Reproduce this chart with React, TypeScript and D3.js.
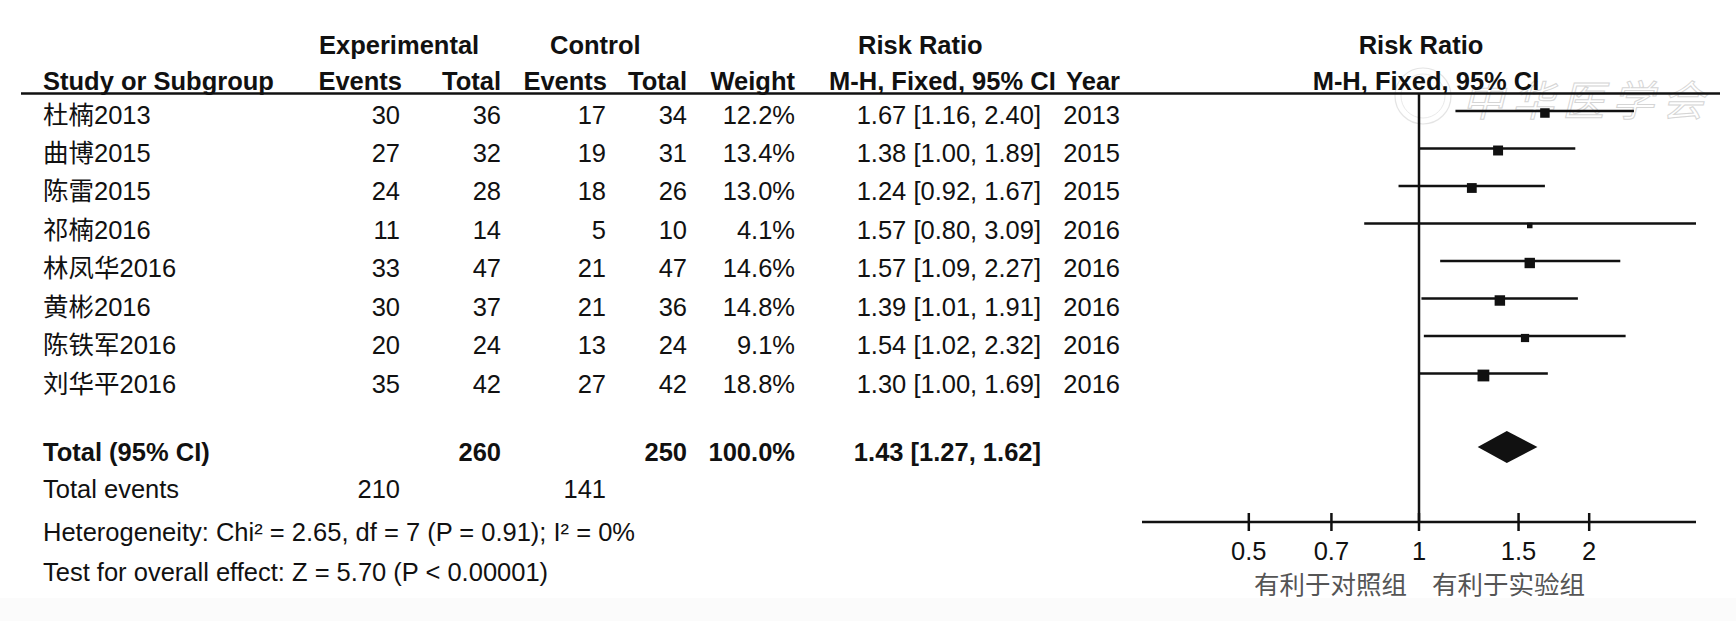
import React from "react";
import * as d3 from "d3";

const studies = ["杜楠2013", "曲博2015", "陈雷2015", "祁楠2016", "林凤华2016", "黄彬2016", "陈铁军2016", "刘华平2016"];
const expEvents = [30, 27, 24, 11, 33, 30, 20, 35];
const expTotal = [36, 32, 28, 14, 47, 37, 24, 42];
const ctrlEvents = [17, 19, 18, 5, 21, 21, 13, 27];
const ctrlTotal = [34, 31, 26, 10, 47, 36, 24, 42];
const weights = [12.2, 13.4, 13.0, 4.1, 14.6, 14.8, 9.1, 18.8];
const rr = [1.67, 1.38, 1.24, 1.57, 1.57, 1.39, 1.54, 1.30];
const rrLo = [1.16, 1.0, 0.92, 0.8, 1.09, 1.01, 1.02, 1.0];
const rrHi = [2.4, 1.89, 1.67, 3.09, 2.27, 1.91, 2.32, 1.69];
const years = [2013, 2015, 2015, 2016, 2016, 2016, 2016, 2016];

const totalExp = 260;
const totalCtrl = 250;
const totalWeight = "100.0%";
const pooled = [1.43, 1.27, 1.62];
const totalEventsExp = 210;
const totalEventsCtrl = 141;
const heterogeneityText = "Heterogeneity: Chi² = 2.65, df = 7 (P = 0.91); I² = 0%";
const overallText = "Test for overall effect: Z = 5.70 (P < 0.00001)";
const axisTicks = [0.5, 0.7, 1, 1.5, 2];
const axisDomain = [1 / 3.09, 3.09];
const favoursLeft = "有利于对照组";
const favoursRight = "有利于实验组";

const W = 1736;
const H = 621;
const FONT = "'Liberation Sans', Arial, 'Noto Sans CJK SC', sans-serif";
const FS = 25.5;

export default function App() {
  const x = d3.scaleLog().domain(axisDomain).range([1142, 1696]);
  const rowY = d3.scaleLinear().domain([0, studies.length - 1]).range([111, 373.5]);
  const textY = d3.scaleLinear().domain([0, studies.length - 1]).range([123.5, 392.5]);
  const size = d3.scaleSqrt().domain([0, 100]).range([0, 27.2]);
  const fmt2 = d3.format(".2f");
  const fmtW = (v: number) => d3.format(".1f")(v) + "%";
  const ciText = (m: number, l: number, h: number) => `${fmt2(m)} [${fmt2(l)}, ${fmt2(h)}]`;
  const x1 = x(1);
  const axisY = 522;
  const totalY = 447;

  const diamond = d3.line<[number, number]>()([
    [x(pooled[1]), totalY],
    [x(pooled[0]), totalY - 16],
    [x(pooled[2]), totalY],
    [x(pooled[0]), totalY + 16],
  ]) as string;

  const T = (props: any) => (
    <text fontFamily={FONT} fontSize={FS} fill="#111" {...props} />
  );

  return (
    <svg width={W} height={H} style={{ position: "absolute", left: 0, top: 0, background: "#fff" }}>
      <rect x={0} y={0} width={W} height={H} fill="#fff" />
      <rect x={0} y={598} width={W} height={H - 598} fill="#fbfbfb" />

      {/* watermark */}
      <g opacity={0.22} stroke="#888" fill="none">
        <circle cx={1423} cy={96} r={28} strokeWidth={1.2} />
        <circle cx={1423} cy={96} r={22} strokeWidth={0.8} />
      </g>
      <text x={1462} y={116} fontFamily="'Noto Sans CJK SC', sans-serif" fontSize={42} fill="none" stroke="#c4c4c4" strokeWidth={1} fontStyle="italic" letterSpacing={8} opacity={0.7}>中华医学会</text>

      {/* headers */}
      <g fontWeight="bold">
        <T x={319} y={54}>Experimental</T>
        <T x={550} y={54}>Control</T>
        <T x={858} y={54}>Risk Ratio</T>
        <T x={1421} y={54} textAnchor="middle">Risk Ratio</T>
        <T x={43} y={90}>Study or Subgroup</T>
        <T x={402} y={90} textAnchor="end">Events</T>
        <T x={501} y={90} textAnchor="end">Total</T>
        <T x={607} y={90} textAnchor="end">Events</T>
        <T x={687} y={90} textAnchor="end">Total</T>
        <T x={795} y={90} textAnchor="end">Weight</T>
        <T x={829} y={90}>M-H, Fixed, 95% CI</T>
        <T x={1120} y={90} textAnchor="end">Year</T>
        <T x={1426} y={90} textAnchor="middle">M-H, Fixed, 95% CI</T>
      </g>
      <line x1={21} x2={1720} y1={93.5} y2={93.5} stroke="#111" strokeWidth={2.5} />

      {/* study rows */}
      {studies.map((s, i) => {
        const y = textY(i);
        return (
          <g key={s}>
            <T x={43} y={y}>{s}</T>
            <T x={400} y={y} textAnchor="end">{expEvents[i]}</T>
            <T x={501} y={y} textAnchor="end">{expTotal[i]}</T>
            <T x={606} y={y} textAnchor="end">{ctrlEvents[i]}</T>
            <T x={687} y={y} textAnchor="end">{ctrlTotal[i]}</T>
            <T x={795} y={y} textAnchor="end">{fmtW(weights[i])}</T>
            <T x={1041} y={y} textAnchor="end">{ciText(rr[i], rrLo[i], rrHi[i])}</T>
            <T x={1120} y={y} textAnchor="end">{years[i]}</T>
          </g>
        );
      })}

      {/* total rows */}
      <g fontWeight="bold">
        <T x={43} y={461}>Total (95% CI)</T>
        <T x={501} y={461} textAnchor="end">{totalExp}</T>
        <T x={687} y={461} textAnchor="end">{totalCtrl}</T>
        <T x={795} y={461} textAnchor="end">{totalWeight}</T>
        <T x={1041} y={461} textAnchor="end">{ciText(pooled[0], pooled[1], pooled[2])}</T>
      </g>
      <T x={43} y={498}>Total events</T>
      <T x={400} y={498} textAnchor="end">{totalEventsExp}</T>
      <T x={606} y={498} textAnchor="end">{totalEventsCtrl}</T>
      <T x={43} y={541}>{heterogeneityText}</T>
      <T x={43} y={581}>{overallText}</T>

      {/* forest plot */}
      <line x1={x1} x2={x1} y1={93.5} y2={axisY} stroke="#111" strokeWidth={2.5} />
      {studies.map((s, i) => {
        const y = rowY(i);
        const sz = size(weights[i]);
        return (
          <g key={"f" + s}>
            <line x1={x(rrLo[i])} x2={x(rrHi[i])} y1={y} y2={y} stroke="#111" strokeWidth={2.6} />
            <rect x={x(rr[i]) - sz / 2} y={y + 2 - sz / 2} width={sz} height={sz} fill="#111" />
          </g>
        );
      })}
      <path d={diamond} fill="#111" />

      {/* axis */}
      <line x1={x.range()[0]} x2={x.range()[1]} y1={axisY} y2={axisY} stroke="#111" strokeWidth={2.5} />
      {axisTicks.map((t) => (
        <g key={t}>
          <line x1={x(t)} x2={x(t)} y1={axisY - 9} y2={axisY + 9} stroke="#111" strokeWidth={2.5} />
          <T x={x(t)} y={560} textAnchor="middle">{String(t)}</T>
        </g>
      ))}
      <T x={x1 - 12} y={594} textAnchor="end" fill="#555" fontFamily="'Noto Sans CJK SC', sans-serif">{favoursLeft}</T>
      <T x={x1 + 13} y={594} textAnchor="start" fill="#555" fontFamily="'Noto Sans CJK SC', sans-serif">{favoursRight}</T>
    </svg>
  );
}
